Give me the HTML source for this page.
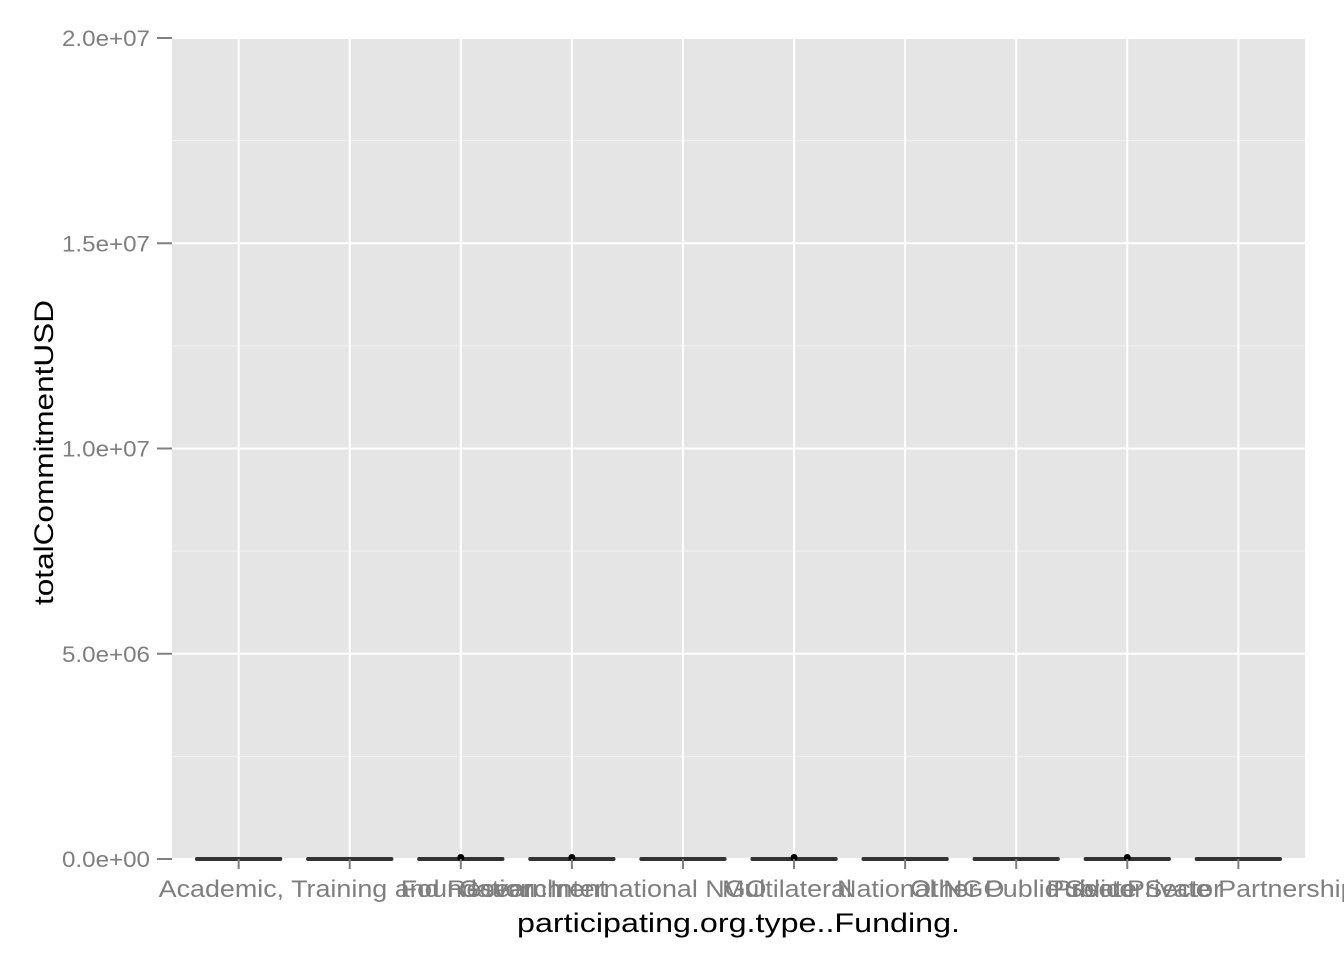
<!DOCTYPE html>
<html><head><meta charset="utf-8"><style>body{margin:0;background:#fff}svg{display:block}text{font-family:"Liberation Sans",sans-serif}</style></head>
<body>
<svg id="c" width="1344" height="960"></svg>
<script>
const categories=["Academic, Training and Research","Foundation","Government","International NGO","Multilateral","National NGO","Other","Other Public Sector","Private Sector","Public Private Partnership"];
const q1=[0,0,0,0,0,0,0,0,0,0];
const median=[0,0,0,0,0,0,0,0,0,0];
const q3=[20000,15000,20000,20000,15000,20000,20000,15000,20000,15000];
const outlierMax=[0,0,60000,60000,0,60000,0,0,60000,0];
const yTicks=[0,5e6,1e7,1.5e7,2e7];
const yTickLabels=["0.0e+00","5.0e+06","1.0e+07","1.5e+07","2.0e+07"];
const labelOffset=[-80,51,-2,-22,39,43,5,-106,-74,-192];
const NS="http://www.w3.org/2000/svg",svg=document.getElementById('c');
const L=172,R=1305,T=38,B=859;
const y=v=>B-(v/2e7)*(B-T);
const step=(R-L)/(categories.length-1+1.2);
const x=i=>L+step*(0.6+i);
function mk(t,a,p){const e=document.createElementNS(NS,t);for(const k in a)e.setAttribute(k,a[k]);(p||svg).appendChild(e);return e;}
const bg=mk('rect',{x:L,y:T,width:R-L,height:B-T,fill:'#e5e5e5'});


for(let i=0;i<yTicks.length-1;i++){const m=(yTicks[i]+yTicks[i+1])/2;const g=mk('line',{x1:L,x2:R,y1:y(m),y2:y(m),stroke:'#f2f2f2','stroke-width':1});

}
yTicks.forEach((v,i)=>{const g=mk('line',{x1:L,x2:R,y1:y(v),y2:y(v),stroke:'#fff','stroke-width':2});


const tk=mk('line',{x1:L-15,x2:L,y1:y(v),y2:y(v),stroke:'#7f7f7f','stroke-width':2});


const t=mk('text',{x:L-110,y:y(v)+8,'font-size':22,fill:'#7f7f7f',textLength:88,lengthAdjust:'spacingAndGlyphs'});t.textContent=yTickLabels[i];

});
categories.forEach((c,i)=>{const cx=x(i);
const g=mk('line',{x1:cx,x2:cx,y1:T,y2:B,stroke:'#fff','stroke-width':2});


const hw=step*0.375;
const bx=mk('rect',{x:cx-hw,y:y(q3[i]),width:2*hw,height:Math.max(1,y(q1[i])-y(q3[i])),fill:'#fff',stroke:'#333','stroke-width':2});


const md=mk('line',{x1:cx-hw,x2:cx+hw,y1:y(median[i]),y2:y(median[i]),stroke:'#333','stroke-width':4,'stroke-linecap':'round'});


if(outlierMax[i]>0){const p=mk('circle',{cx:cx,cy:y(outlierMax[i])+1,r:3.5,fill:'#000'});

}
const tk=mk('line',{x1:cx,x2:cx,y1:B,y2:B+10,stroke:'#7f7f7f','stroke-width':2});


const t=mk('text',{x:cx+labelOffset[i],y:B+38,'font-size':24,fill:'#7f7f7f',lengthAdjust:'spacingAndGlyphs'});t.textContent=c;


t.setAttribute('textLength',t.getComputedTextLength()*1.12);});
const xt=mk('text',{x:517,y:932,'font-size':27,fill:'#000',textLength:443,lengthAdjust:'spacingAndGlyphs'});xt.textContent='participating.org.type..Funding.';


const yt=mk('text',{x:0,y:0,transform:`translate(53,605) rotate(-90)`,'font-size':27,fill:'#000',textLength:305,lengthAdjust:'spacingAndGlyphs'});yt.textContent='totalCommitmentUSD';


</script>
</body></html>
